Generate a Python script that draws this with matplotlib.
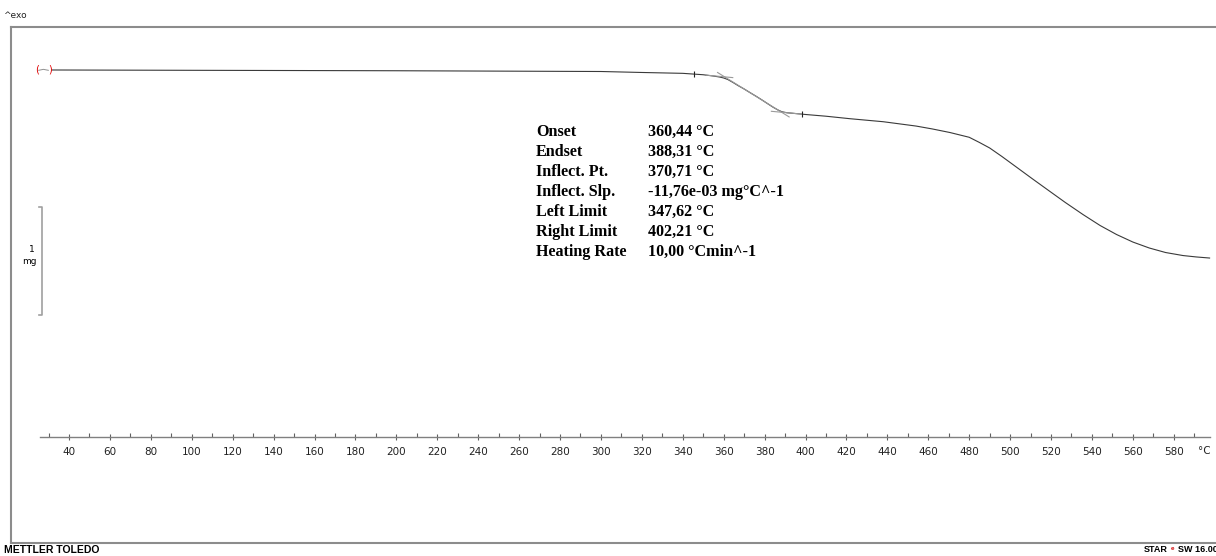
import numpy as np
import matplotlib
matplotlib.use("Agg")
import matplotlib.pyplot as plt
from matplotlib.lines import Line2D

# TGA curve (temperature in degC, mass in mg)
temp = [31.7, 100, 200, 300, 320, 340, 350, 355, 358, 360, 362, 364.6, 367,
        370, 373, 376, 379, 381, 384, 386.5, 388.5, 391, 395, 400, 410, 421.7,
        438, 454, 462, 470.6, 480, 485, 490, 496, 503, 511, 519.5, 527,
        535.6, 544, 552, 560, 568, 576, 584.5, 591, 597.5]
mass = [10.000, 9.997, 9.993, 9.986, 9.977, 9.969, 9.956, 9.944, 9.935, 9.926,
        9.912, 9.884, 9.856, 9.824, 9.789, 9.755, 9.719, 9.694, 9.657, 9.630,
        9.613, 9.604, 9.597, 9.588, 9.572, 9.549, 9.521, 9.481, 9.454, 9.421,
        9.377, 9.329, 9.278, 9.199, 9.102, 8.991, 8.875, 8.773, 8.662, 8.560,
        8.477, 8.407, 8.352, 8.310, 8.282, 8.269, 8.259]

# evaluation results
onset = 360.44
endset = 388.31
inflect = 370.71
inflect_slope = -11.76e-03
left_limit = 347.62
right_limit = 402.21

result_names = ["Onset", "Endset", "Inflect. Pt.", "Inflect. Slp.",
                "Left Limit", "Right Limit", "Heating Rate"]
result_values = ["360,44 °C", "388,31 °C", "370,71 °C", "-11,76e-03 mg°C^-1",
                 "347,62 °C", "402,21 °C", "10,00 °Cmin^-1"]

major_ticks = list(range(40, 581, 20))
minor_ticks = list(range(30, 591, 10))

W, H = 1216, 556
fig = plt.figure(figsize=(W / 100, H / 100), dpi=100)


def fx(x):
    return x / W


def fy(y):
    return 1 - y / H


# outer frame
frame_col = "#8c8c8c"
for xs, ys in [((11, 1216), (27, 27)), ((11, 11), (27, 543)), ((11, 1216), (543, 543))]:
    fig.add_artist(Line2D([fx(xs[0]), fx(xs[1])], [fy(ys[0]), fy(ys[1])],
                          color=frame_col, lw=1.5, transform=fig.transFigure))

fig.text(fx(3), fy(16), "^exo", fontsize=6.5, va="center", ha="left", color="#222222")
fig.text(fx(4), fy(550), "METTLER TOLEDO", fontsize=7.5, fontweight="bold",
         va="center", ha="left", family="Liberation Sans")
fig.text(fx(1144), fy(550), "STAR", fontsize=6.5, fontweight="bold",
         va="center", ha="left", family="Liberation Sans")
fig.text(fx(1171), fy(548), "e", fontsize=4.5, fontweight="bold", color="#d00000",
         va="center", ha="left", family="Liberation Sans")
fig.text(fx(1178), fy(550), "SW 16.00", fontsize=6.5, fontweight="bold",
         va="center", ha="left", family="Liberation Sans")

# data axes: x-axis line at y=437, top at frame
ax = fig.add_axes([fx(40), fy(437), (1210 - 40) / W, (437 - 27) / H])
ax.set_xlim(25.83, 597.7)
ax.set_ylim(6.602, 10.398)
for s in ["top", "left", "right"]:
    ax.spines[s].set_visible(False)
ax.spines["bottom"].set_color("#808080")
ax.spines["bottom"].set_linewidth(1.0)
ax.set_yticks([])
ax.set_xticks(major_ticks)
ax.set_xticks(minor_ticks, minor=True)
ax.tick_params(axis="x", which="major", direction="inout", length=5, width=0.8,
               color="#606060", labelsize=7.5, pad=5, labelcolor="#222222")
ax.tick_params(axis="x", which="minor", direction="in", length=3, width=0.8,
               color="#606060")
ax.patch.set_alpha(0)
fig.text(fx(1204), fy(451), "°C", fontsize=7.5, ha="center", va="center", color="#222222")

T = np.array(temp)
M = np.array(mass)
ax.plot(T, M, color="#3a3a3a", lw=0.8, clip_on=False)

# tangents
tan_col = "#9a9a9a"
m_inf = np.interp(inflect, T, M)
t1 = np.array([357, 392])
ax.plot(t1, m_inf + inflect_slope * (t1 - inflect), color=tan_col, lw=0.8)
m_on = m_inf + inflect_slope * (onset - inflect)
m_ll = np.interp(left_limit, T, M)
sl = (m_on - m_ll) / (onset - left_limit)
t2 = np.array([left_limit + 4, onset + 4])
ax.plot(t2, m_ll + sl * (t2 - left_limit), color=tan_col, lw=0.8)
m_en = m_inf + inflect_slope * (endset - inflect)
m_rl = np.interp(right_limit, T, M)
sr = (m_rl - m_en) / (right_limit - endset)
t3 = np.array([endset - 5, right_limit - 4])
ax.plot(t3, m_en + sr * (t3 - endset), color=tan_col, lw=0.8)

# limit markers
for t in [left_limit - 2, right_limit - 4]:
    ax.plot([t], [np.interp(t, T, M)], marker="|", ms=4, mew=0.8, color="#222222")

# red start bracket
ax.text(24.4, 10.0, "(", color="#e00000", fontsize=7, ha="center", va="center", clip_on=False)
ax.text(30.7, 10.0, ")", color="#e00000", fontsize=7, ha="center", va="center", clip_on=False)
ax.plot([25.2, 27.5, 29.9], [9.997, 10.006, 9.997], color="#909090", lw=0.7, clip_on=False)

# results table
y0 = 132
for i, (n, v) in enumerate(zip(result_names, result_values)):
    fig.text(fx(536), fy(y0 + i * 20), n, family="Liberation Serif", fontweight="bold",
             fontsize=11.6, va="center", ha="left")
    fig.text(fx(648), fy(y0 + i * 20), v, family="Liberation Serif", fontweight="bold",
             fontsize=11.6, va="center", ha="left")

# 1 mg scale bar
fig.add_artist(Line2D([fx(39), fx(42), fx(42), fx(39)], [fy(207), fy(207), fy(315), fy(315)],
                      color="#a0a0a0", lw=1.2, transform=fig.transFigure))
fig.text(fx(35), fy(249), "1", fontsize=6.5, ha="right", va="center")
fig.text(fx(37), fy(262), "mg", fontsize=6.5, ha="right", va="center")

fig.savefig("out.png", dpi=100)
